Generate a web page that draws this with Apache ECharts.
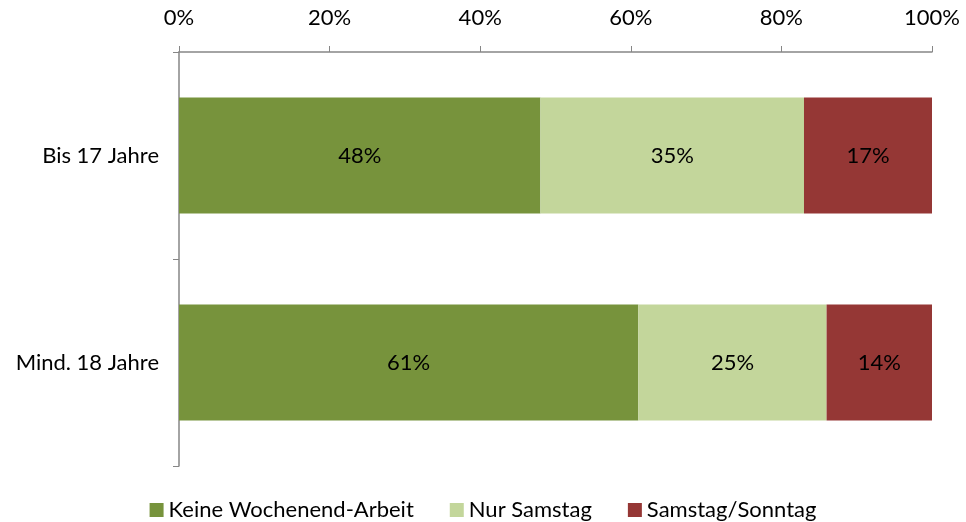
<!DOCTYPE html>
<html>
<head>
<meta charset="utf-8">
<script src="https://cdn.jsdelivr.net/npm/echarts@6/dist/echarts.min.js"></script>
<style>
  html, body { margin: 0; padding: 0; background: #fff; }
  #chart { width: 966px; height: 522px; }
</style>
</head>
<body>
<div id="chart"></div>
<script>
  // Altersgruppen
  var categories = ['Bis 17 Jahre', 'Mind. 18 Jahre'];
  var seriesNames = ['Keine Wochenend-Arbeit', 'Nur Samstag', 'Samstag/Sonntag'];
  var keineWochenende = [48, 61];
  var nurSamstag = [35, 25];
  var samstagSonntag = [17, 14];
  var colors = ['#77933C', '#C3D69B', '#953735'];

  var font = 'Lato, "Open Sans", sans-serif';
  var axisGrey = '#868686';

  function makeSeries(name, data, color) {
    return {
      name: name,
      type: 'bar',
      stack: 'total',
      barCategoryGap: '44%',
      data: data,
      itemStyle: { color: color },
      label: {
        show: true,
        position: 'inside',
        formatter: '{c}%',
        color: '#000',
        fontFamily: font,
        fontSize: 22
      }
    };
  }

  var chart = echarts.init(document.getElementById('chart'));
  chart.setOption({
    animation: false,
    textStyle: { fontFamily: font },
    grid: { left: 179, right: 34, top: 52, bottom: 56 },
    legend: {
      top: 494,
      left: 'center',
      itemWidth: 14,
      itemHeight: 14,
      itemGap: 36,
      icon: 'rect',
      textStyle: { fontFamily: font, fontSize: 22, color: '#000' },
      data: seriesNames
    },
    xAxis: {
      type: 'value',
      position: 'top',
      min: 0,
      max: 100,
      interval: 20,
      axisLine: { show: true, lineStyle: { color: axisGrey, width: 1.5 } },
      axisTick: { show: true, length: 6, lineStyle: { color: axisGrey } },
      splitLine: { show: false },
      axisLabel: { formatter: '{value}%', fontSize: 22, color: '#000', margin: 23 }
    },
    yAxis: {
      type: 'category',
      inverse: true,
      data: categories,
      axisLine: { show: true, lineStyle: { color: axisGrey, width: 1.5 } },
      axisTick: { show: true, length: 6, lineStyle: { color: axisGrey } },
      axisLabel: { fontSize: 22, color: '#000', margin: 20 }
    },
    series: [
      makeSeries(seriesNames[0], keineWochenende, colors[0]),
      makeSeries(seriesNames[1], nurSamstag, colors[1]),
      makeSeries(seriesNames[2], samstagSonntag, colors[2])
    ]
  });
</script>
</body>
</html>
